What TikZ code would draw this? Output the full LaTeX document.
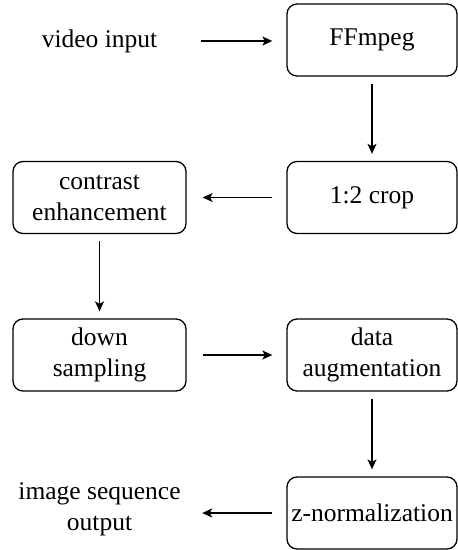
\documentclass[tikz,border=0pt]{standalone}
\usepackage{fontspec}
\setmainfont{Liberation Serif}[Ligatures=TeX]
\newfontfamily\tnr{Liberation Serif}
\usetikzlibrary{arrows.meta}
\begin{document}
\begin{tikzpicture}[x=1pt,y=1pt,
  txt/.style={font=\tnr\fontsize{25.5}{31}\selectfont, align=center, inner sep=0pt},
  box/.style={txt, draw, line width=1.3pt, rounded corners=10pt, minimum height=72pt},
  rbox/.style={box, minimum width=170pt},
  lbox/.style={box, minimum width=173pt},
  lbl/.style={txt, minimum width=173pt, minimum height=72pt},
  arr/.style={line width=1.3pt, -{Stealth[length=10pt,width=9pt,inset=2.5pt]}}]
\useasboundingbox (0,0) rectangle (458,-550);
\node[lbl] (vi) at (99.5,-41) {video input};
\node[rbox] (ff) at (372,-40) {FFmpeg};
\node[rbox] (crop) at (372,-197.5) {1:2 crop};
\node[lbox] (ce) at (99.5,-197.5) {contrast\\enhancement};
\node[lbox] (ds) at (99.5,-355) {down\\sampling};
\node[rbox] (da) at (372,-355) {data\\augmentation};
\node[rbox] (zn) at (372,-513) {z-normalization};
\node[lbl] (out) at (99.5,-509) {image sequence\\output};
\draw[arr, shorten <=15pt, shorten >=14pt] (vi.east) -- (vi.east -| ff.west);
\draw[arr, shorten <=7pt, shorten >=7pt] (ff) -- (crop);
\draw[arr, shorten <=14pt, shorten >=16pt] (crop) -- (ce);
\draw[arr, shorten <=7pt, shorten >=7pt] (ce) -- (ds);
\draw[arr, shorten <=16pt, shorten >=14pt] (ds) -- (da);
\draw[arr, shorten <=7pt, shorten >=7pt] (da) -- (zn);
\draw[arr, shorten <=14pt, shorten >=16pt] (zn.west) -- (zn.west -| out.east);
\end{tikzpicture}
\end{document}
